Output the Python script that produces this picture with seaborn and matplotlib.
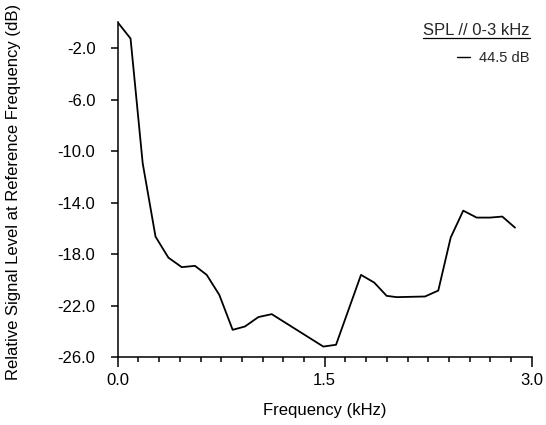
import matplotlib
matplotlib.use("Agg")
import matplotlib.pyplot as plt
from matplotlib.lines import Line2D
from matplotlib.ticker import MultipleLocator
import seaborn as sns
import pandas as pd

freq_khz = [0.0, 0.093, 0.181, 0.274, 0.367, 0.464, 0.560, 0.645, 0.736, 0.833,
            0.922, 1.019, 1.116, 1.490, 1.582, 1.763, 1.859, 1.949, 2.022, 2.227,
            2.323, 2.413, 2.504, 2.601, 2.698, 2.787, 2.879]
level_db = [0.0, -1.26, -10.95, -16.65, -18.28, -19.02, -18.92, -19.62, -21.17, -23.89,
            -23.63, -22.90, -22.67, -25.19, -25.05, -19.62, -20.22, -21.25, -21.35, -21.30,
            -20.84, -16.72, -14.63, -15.17, -15.17, -15.09, -15.95]
series_label = "44.5 dB"
legend_title = "SPL // 0-3 kHz"
x_ticks = [0.0, 1.5, 3.0]
y_ticks = [-2.0, -6.0, -10.0, -14.0, -18.0, -22.0, -26.0]

sns.set_theme(style="ticks")
plt.rcParams["font.family"] = ["Liberation Sans", "DejaVu Sans"]

df = pd.DataFrame({"Frequency (kHz)": freq_khz, "Level": level_db, "series": series_label})

fig = plt.figure(figsize=(5.46, 4.25), dpi=100)
ax = fig.add_axes([0.2156, 0.16, 0.7582, 0.7875])

sns.lineplot(data=df, x="Frequency (kHz)", y="Level", hue="series",
             palette=["black"], linewidth=1.3, ax=ax, legend=True)

ax.set_xlim(0, 3.0)
ax.set_ylim(-26, 0)
ax.set_xticks(x_ticks)
ax.set_xticklabels([f"{t:.1f}" for t in x_ticks])
ax.xaxis.set_minor_locator(MultipleLocator(0.15))
ax.set_yticks(y_ticks)
ax.set_yticklabels([f"{t:.1f}" for t in y_ticks])

ax.tick_params(axis="y", which="major", direction="out", length=5, width=1.1,
               labelsize=12, color="black", labelcolor="black", pad=11)
ax.tick_params(axis="x", which="major", direction="out", length=7.2, width=1.1,
               labelsize=12, color="black", labelcolor="black", pad=4)
ax.tick_params(axis="x", which="minor", direction="out", length=3.6, width=1.1, color="black")

for s in ["top", "right"]:
    ax.spines[s].set_visible(False)
for s in ["left", "bottom"]:
    ax.spines[s].set_linewidth(1.1)
    ax.spines[s].set_color("black")

ax.set_xlabel("Frequency (kHz)", fontsize=12, color="black")
ax.set_ylabel("Relative Signal Level at Reference Frequency (dB)", fontsize=12, color="black")
ax.xaxis.set_label_coords(0.5, -0.137)
ax.yaxis.set_label_coords(-0.2336, 0.494)

leg = ax.legend(title=legend_title, loc="upper right", bbox_to_anchor=(0.9835, 0.962),
                bbox_transform=fig.transFigure, frameon=False, fontsize=10.5,
                title_fontsize=12, handlelength=0.95, handletextpad=0.6,
                borderpad=0.0, labelspacing=0.85)
leg._legend_box.align = "right"
for h in leg.get_lines():
    h.set_linewidth(1.0)

fig.canvas.draw()
renderer = fig.canvas.get_renderer()
bb = leg.get_title().get_window_extent(renderer)
inv = fig.transFigure.inverted()
(x0, y0), (x1, y1) = inv.transform([(bb.x0, bb.y0), (bb.x1, bb.y0)])
fig.add_artist(Line2D([x0, x1], [y0 + 0.002, y0 + 0.002], transform=fig.transFigure,
                      color="black", linewidth=0.9))

fig.savefig("out.png", dpi=100)
